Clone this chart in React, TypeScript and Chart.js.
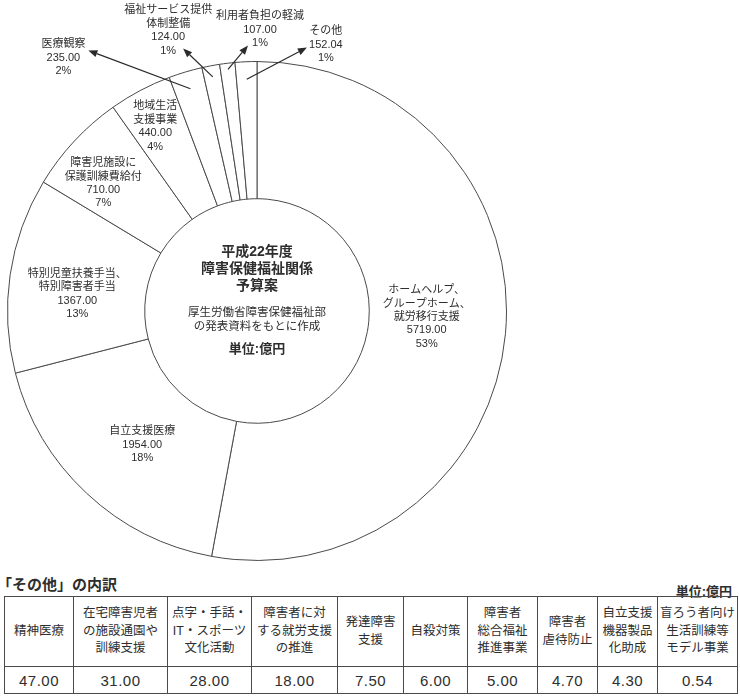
import React, { useEffect, useRef } from 'react';
import { Chart, registerables } from 'chart.js';

Chart.register(...registerables);

// ---------- data ----------
const categories: string[][] = [
  ['ホームヘルプ、', 'グループホーム、', '就労移行支援'],
  ['自立支援医療'],
  ['特別児童扶養手当、', '特別障害者手当'],
  ['障害児施設に', '保護訓練費給付'],
  ['地域生活', '支援事業'],
  ['医療観察'],
  ['福祉サービス提供', '体制整備'],
  ['利用者負担の軽減'],
  ['その他'],
];
const budgetValues = [5719.0, 1954.0, 1367.0, 710.0, 440.0, 235.0, 124.0, 107.0, 152.04];

const centerTitle = ['平成22年度', '障害保健福祉関係', '予算案'];
const centerNote = ['厚生労働省障害保健福祉部', 'の発表資料をもとに作成'];
const unitLabel = '単位:億円';

const breakdownTitle = '「その他」の内訳';
const breakdownHeaders: string[][] = [
  ['精神医療'],
  ['在宅障害児者', 'の施設通園や', '訓練支援'],
  ['点字・手話・', 'IT・スポーツ', '文化活動'],
  ['障害者に対', 'する就労支援', 'の推進'],
  ['発達障害', '支援'],
  ['自殺対策'],
  ['障害者', '総合福祉', '推進事業'],
  ['障害者', '虐待防止'],
  ['自立支援', '機器製品', '化助成'],
  ['盲ろう者向け', '生活訓練等', 'モデル事業'],
];
const breakdownValues = [47.0, 31.0, 28.0, 18.0, 7.5, 6.0, 5.0, 4.7, 4.3, 0.54];

// ---------- layout / style ----------
const FONT = '"Liberation Sans", "Noto Sans CJK JP", sans-serif';
const TEXT = '#2e2e2e';
const LINE = '#4a4a4a';

// label block centres relative to the doughnut centre, in px for an outer radius of 250
const labelLayout: { dx: number; dy: number; arrow?: { from: number; dx: number; dy: number } }[] = [
  { dx: 170, dy: 6 },
  { dx: -115, dy: 134 },
  { dx: -180, dy: -17 },
  { dx: -154, dy: -128 },
  { dx: -102, dy: -185 },
  { dx: -194, dy: -254, arrow: { from: 0.93, dx: -169, dy: -261 } },
  { dx: -89, dy: -281, arrow: { from: 0.955, dx: -74, dy: -263 } },
  { dx: 3, dy: -282, arrow: { from: 0.975, dx: -9, dy: -266 } },
  { dx: 69, dy: -267, arrow: { from: 0.93, dx: 50, dy: -264 } },
];
const colWidths = [69, 94, 84, 86, 66, 64, 70, 60, 60, 80];

function drawArrow(ctx: CanvasRenderingContext2D, x0: number, y0: number, x1: number, y1: number) {
  const ang = Math.atan2(y1 - y0, x1 - x0);
  const head = 9;
  const half = 3.6;
  const bx = x1 - Math.cos(ang) * head;
  const by = y1 - Math.sin(ang) * head;
  ctx.beginPath();
  ctx.moveTo(x0, y0);
  ctx.lineTo(bx, by);
  ctx.lineWidth = 1.2;
  ctx.strokeStyle = '#2a2a2a';
  ctx.stroke();
  ctx.beginPath();
  ctx.moveTo(x1, y1);
  ctx.lineTo(bx - Math.sin(ang) * half, by + Math.cos(ang) * half);
  ctx.lineTo(bx + Math.sin(ang) * half, by - Math.cos(ang) * half);
  ctx.closePath();
  ctx.fillStyle = '#2a2a2a';
  ctx.fill();
}

export default function App() {
  const canvasRef = useRef<HTMLCanvasElement>(null);

  useEffect(() => {
    const canvas = canvasRef.current;
    if (!canvas) return;
    const total = budgetValues.reduce((a, b) => a + b, 0);

    const labelPlugin = {
      id: 'sliceLabels',
      afterDatasetsDraw(chart: any) {
        const ctx: CanvasRenderingContext2D = chart.ctx;
        const meta = chart.getDatasetMeta(0);
        const first: any = meta.data[0];
        const cx = first.x;
        const cy = first.y;
        const R = first.outerRadius;
        const k = R / 250;
        ctx.save();
        ctx.textAlign = 'center';
        ctx.textBaseline = 'middle';
        meta.data.forEach((arc: any, i: number) => {
          const lay = labelLayout[i];
          const pct = Math.round((budgetValues[i] / total) * 100) + '%';
          const lines = [...categories[i], budgetValues[i].toFixed(2), pct];
          const lx = cx + lay.dx * k;
          const ly = cy + lay.dy * k;
          const lh = 13.4;
          ctx.font = `11px ${FONT}`;
          ctx.fillStyle = TEXT;
          lines.forEach((t, j) => ctx.fillText(t, lx, ly + (j - (lines.length - 1) / 2) * lh));
          if (lay.arrow) {
            const mid = (arc.startAngle + arc.endAngle) / 2;
            const r = R * lay.arrow.from;
            drawArrow(
              ctx,
              cx + Math.cos(mid) * r,
              cy + Math.sin(mid) * r,
              cx + lay.arrow.dx * k,
              cy + lay.arrow.dy * k
            );
          }
        });
        // centre text
        ctx.fillStyle = TEXT;
        ctx.font = `bold 14px ${FONT}`;
        const titleY = [-59, -42, -25];
        centerTitle.forEach((t, j) => ctx.fillText(t, cx, cy + titleY[j] * k));
        ctx.font = `11.5px ${FONT}`;
        const noteY = [2, 16];
        centerNote.forEach((t, j) => ctx.fillText(t, cx, cy + noteY[j] * k));
        ctx.font = `bold 13px ${FONT}`;
        ctx.fillText(unitLabel, cx, cy + 38 * k);
        ctx.restore();
      },
    };

    const chart = new Chart(canvas, {
      type: 'doughnut',
      data: {
        labels: categories.map((c) => c.join('')),
        datasets: [
          {
            data: budgetValues,
            backgroundColor: '#ffffff',
            borderColor: LINE,
            borderWidth: 1,
            hoverOffset: 0,
          },
        ],
      },
      options: {
        responsive: false,
        animation: false,
        events: [],
        cutout: '45%',
        rotation: 0,
        circumference: 360,
        layout: { padding: { left: 7, top: 61, right: 233, bottom: 14 } },
        plugins: { legend: { display: false }, tooltip: { enabled: false } },
      },
      plugins: [labelPlugin],
    } as any);
    return () => chart.destroy();
  }, []);

  const cell: React.CSSProperties = {
    border: `1px solid ${LINE}`,
    padding: 0,
    textAlign: 'center',
    verticalAlign: 'middle',
  };

  return (
    <div
      style={{
        position: 'absolute',
        left: 0,
        top: 0,
        width: 740,
        height: 700,
        background: '#fff',
        fontFamily: FONT,
        color: TEXT,
        overflow: 'hidden',
      }}
    >
      <canvas
        ref={canvasRef}
        width={740}
        height={575}
        style={{ position: 'absolute', left: 0, top: 0, width: 740, height: 575 }}
      />
      <div
        style={{
          position: 'absolute',
          left: -3,
          top: 575,
          fontSize: 15,
          fontWeight: 'bold',
          lineHeight: '20px',
          whiteSpace: 'nowrap',
        }}
      >
        {breakdownTitle}
      </div>
      <div
        style={{
          position: 'absolute',
          right: 8,
          top: 583,
          fontSize: 13,
          fontWeight: 'bold',
          lineHeight: '18px',
          whiteSpace: 'nowrap',
        }}
      >
        {unitLabel}
      </div>
      <table
        style={{
          position: 'absolute',
          left: 4,
          top: 596,
          width: 733,
          borderCollapse: 'collapse',
          tableLayout: 'fixed',
        }}
      >
        <colgroup>
          {colWidths.map((w, i) => (
            <col key={i} style={{ width: w }} />
          ))}
        </colgroup>
        <tbody>
          <tr style={{ height: 70 }}>
            {breakdownHeaders.map((h, i) => (
              <td key={i} style={{ ...cell, fontSize: 12.5, lineHeight: '17.5px', whiteSpace: 'nowrap' }}>
                {h.map((line, j) => (
                  <div key={j}>{line}</div>
                ))}
              </td>
            ))}
          </tr>
          <tr style={{ height: 27 }}>
            {breakdownValues.map((v, i) => (
              <td key={i} style={{ ...cell, fontSize: 15, letterSpacing: 0.5 }}>
                {v.toFixed(2)}
              </td>
            ))}
          </tr>
        </tbody>
      </table>
    </div>
  );
}
